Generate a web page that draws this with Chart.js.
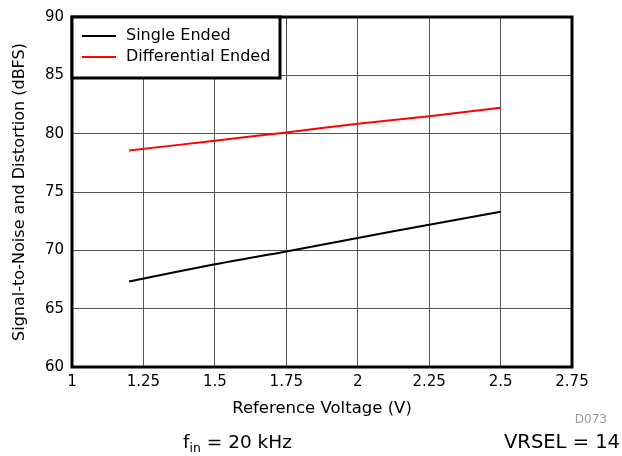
<!DOCTYPE html>
<html>
<head>
<meta charset="utf-8">
<script src="https://cdn.jsdelivr.net/npm/chart.js@4/dist/chart.umd.min.js"></script>
<style>
  body { margin: 0; background: #fff; }
  canvas { display: block; }
</style>
</head>
<body>
<canvas id="snrChart" width="622" height="456"></canvas>
<script>
const refVoltage = [1.2, 1.5, 1.75, 2, 2.25, 2.5];
const singleEnded = [67.33, 68.8, 69.9, 71.05, 72.2, 73.3];
const differentialEnded = [78.55, 79.4, 80.1, 80.85, 81.5, 82.23];
const xTickLabels = ['1', '1.25', '1.5', '1.75', '2', '2.25', '2.5', '2.75'];
const yTickLabels = ['60', '65', '70', '75', '80', '85', '90'];

const FONT = '"DejaVu Sans", "Liberation Sans", Arial, sans-serif';

// frame, legend box and footnotes
const decorations = {
  id: 'decorations',
  afterDraw(chart) {
    const ctx = chart.ctx;
    const a = chart.chartArea;
    ctx.save();
    ctx.strokeStyle = '#000';
    ctx.lineWidth = 3;
    ctx.strokeRect(a.left, a.top, a.right - a.left, a.bottom - a.top);

    // legend
    ctx.fillStyle = '#fff';
    ctx.fillRect(a.left, a.top, 208, 61);
    ctx.strokeRect(a.left, a.top, 208, 61);
    ctx.font = '16px ' + FONT;
    ctx.textBaseline = 'middle';
    chart.data.datasets.forEach((ds, i) => {
      const y = a.top + 19 + i * 21;
      ctx.strokeStyle = ds.borderColor;
      ctx.lineWidth = 2;
      ctx.beginPath();
      ctx.moveTo(a.left + 10, y);
      ctx.lineTo(a.left + 44, y);
      ctx.stroke();
      ctx.fillStyle = '#000';
      ctx.fillText(ds.label, a.left + 54, y);
    });

    // footnotes
    ctx.textBaseline = 'alphabetic';
    ctx.fillStyle = '#999';
    ctx.font = '12px ' + FONT;
    ctx.textAlign = 'right';
    ctx.fillText('D073', 607, 423);

    ctx.fillStyle = '#000';
    ctx.font = '19.5px ' + FONT;
    ctx.fillText('VRSEL = 14', 620, 448);

    ctx.textAlign = 'left';
    let x = 183;
    ctx.font = '18.5px ' + FONT;
    ctx.fillText('f', x, 448);
    x += ctx.measureText('f').width;
    ctx.font = '12.5px ' + FONT;
    ctx.fillText('in', x, 452);
    x += ctx.measureText('in').width;
    ctx.font = '18.5px ' + FONT;
    ctx.fillText(' = 20 kHz', x, 448);
    ctx.restore();
  }
};

new Chart(document.getElementById('snrChart').getContext('2d'), {
  type: 'line',
  data: {
    labels: refVoltage,
    datasets: [
      {
        label: 'Single Ended',
        data: refVoltage.map((v, i) => ({ x: v, y: singleEnded[i] })),
        borderColor: '#000000',
        borderWidth: 2,
        pointRadius: 0,
        tension: 0.3
      },
      {
        label: 'Differential Ended',
        data: refVoltage.map((v, i) => ({ x: v, y: differentialEnded[i] })),
        borderColor: '#ff0000',
        borderWidth: 2,
        pointRadius: 0,
        tension: 0.3
      }
    ]
  },
  options: {
    responsive: false,
    animation: false,
    layout: { padding: { left: 0, right: 50, top: 14, bottom: 33 } },
    plugins: {
      legend: { display: false },
      tooltip: { enabled: false }
    },
    scales: {
      x: {
        type: 'linear',
        min: 1,
        max: 2.75,
        ticks: {
          stepSize: 0.25,
          padding: 6,
          color: '#000',
          font: { family: FONT, size: 15 },
          maxRotation: 0,
          callback: (v, i) => xTickLabels[i]
        },
        grid: { color: '#555', lineWidth: 1, drawTicks: false },
        border: { display: false },
        title: {
          display: true,
          text: 'Reference Voltage (V)',
          color: '#000',
          font: { family: FONT, size: 16.5 },
          padding: { top: 0, bottom: 4 }
        },
        afterFit: s => { s.height = 56; }
      },
      y: {
        min: 60,
        max: 90,
        ticks: {
          stepSize: 5,
          padding: 8,
          color: '#000',
          font: { family: FONT, size: 15 },
          callback: (v, i) => yTickLabels[i]
        },
        grid: { color: '#555', lineWidth: 1, drawTicks: false },
        border: { display: false },
        title: {
          display: true,
          text: 'Signal-to-Noise and Distortion (dBFS)',
          color: '#000',
          font: { family: FONT, size: 16 },
          padding: { top: 10, bottom: 0 }
        },
        afterFit: s => { s.width = 72; }
      }
    }
  },
  plugins: [decorations]
});
</script>
</body>
</html>
